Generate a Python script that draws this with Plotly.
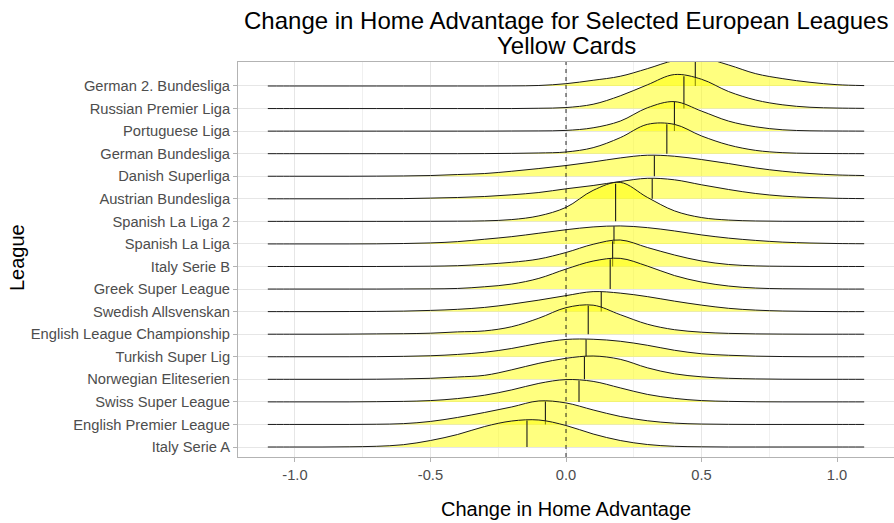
import plotly.graph_objects as go
import numpy as np

# ---------------- data ----------------
leagues = [
    "Italy Serie A", "English Premier League", "Swiss Super League",
    "Norwegian Eliteserien", "Turkish Super Lig", "English League Championship",
    "Swedish Allsvenskan", "Greek Super League", "Italy Serie B",
    "Spanish La Liga", "Spanish La Liga 2", "Austrian Bundesliga",
    "Danish Superliga", "German Bundesliga", "Portuguese Liga",
    "Russian Premier Liga", "German 2. Bundesliga",
]

x_grid = [-1.1, -1.0, -0.9, -0.8, -0.7, -0.6, -0.5, -0.4, -0.3, -0.2, -0.1, 0.0,
          0.1, 0.2, 0.3, 0.4, 0.5, 0.6, 0.7, 0.8, 0.9, 1.0, 1.1]

# ridge heights (relative density) at x_grid, bottom league first
dens_italy_a = [0, 0, 0, 0.2, 0.7, 2.3, 6.5, 12.5, 20.5, 26, 27, 21.5, 13, 6.5, 2.5, 0.7, 0.2, 0, 0, 0, 0, 0, 0]
dens_epl = [0, 0, 0, 0, 0.2, 0.8, 3, 7, 12, 17.5, 23.5, 21.5, 14.5, 8, 3.7, 1.3, 0.4, 0.1, 0, 0, 0, 0, 0]
dens_swiss = [0, 0, 0, 0, 0.2, 0.5, 1.3, 3.3, 6.7, 12, 18.5, 22.3, 20.5, 14, 7.5, 3.5, 1.3, 0.5, 0.1, 0, 0, 0, 0]
dens_norway = [0, 0, 0, 0, 0.1, 0.4, 1, 2.3, 4, 9.5, 16, 21, 23.3, 20, 11.5, 5.5, 2.5, 1, 0.4, 0.1, 0, 0, 0]
dens_turkey = [0, 0, 0, 0, 0.1, 0.4, 1, 2.3, 4.5, 8.3, 13.5, 17.3, 17.5, 15.5, 11.5, 6.5, 3, 1.5, 0.6, 0.2, 0, 0, 0]
dens_champ = [0, 0, 0, 0.1, 0.3, 0.5, 1, 2.3, 3.3, 7.5, 16, 26.5, 29, 19.5, 10, 4.5, 2, 0.8, 0.3, 0.1, 0, 0, 0]
dens_sweden = [0, 0, 0, 0.1, 0.2, 0.5, 1.2, 2.3, 4.2, 7.5, 11.5, 16, 20, 18.5, 15, 10.5, 6.5, 3.3, 1.5, 0.6, 0.2, 0, 0]
dens_greece = [0, 0, 0, 0, 0, 0.1, 0.2, 0.6, 2.3, 5, 10.7, 20, 28, 30.7, 23, 13.5, 7, 3, 1, 0.3, 0.1, 0, 0]
dens_italy_b = [0, 0, 0, 0, 0, 0.1, 0.3, 0.8, 2.2, 4.2, 7.5, 14, 22.2, 26.5, 19, 11.5, 5.5, 2, 0.6, 0.2, 0, 0, 0]
dens_spain = [0, 0, 0, 0, 0.1, 0.4, 1, 2.3, 4.7, 7.3, 10.7, 14.2, 17, 18, 16.3, 13, 9, 5.8, 3.5, 1.8, 0.9, 0.4, 0.2]
dens_spain2 = [0, 0, 0, 0, 0, 0, 0.1, 0.2, 0.5, 1.8, 5.5, 14, 31, 39, 24, 10.5, 3.8, 1.3, 0.4, 0.1, 0, 0, 0]
dens_austria = [0, 0, 0, 0, 0.1, 0.2, 0.7, 1.3, 2.3, 4, 6.3, 10, 13.3, 17.3, 20.5, 19, 14, 9.3, 5.3, 2.7, 1.3, 0.5, 0.2]
dens_denmark = [0, 0, 0, 0, 0.1, 0.3, 0.7, 1.7, 2.7, 5, 7.7, 10.7, 14.3, 18.3, 21, 20, 16.7, 12.7, 8.3, 5, 2.7, 1.3, 0.7]
dens_germany = [0, 0, 0, 0, 0, 0, 0, 0, 0.1, 0.3, 0.7, 1.7, 6, 16, 29.3, 29.3, 17.7, 8.7, 3.3, 1, 0.3, 0.1, 0]
dens_portugal = [0, 0, 0, 0, 0, 0, 0, 0, 0, 0.1, 0.2, 0.7, 3.3, 10, 23.3, 29.5, 20, 10, 4.3, 1.3, 0.3, 0.1, 0]
dens_russia = [0, 0, 0, 0, 0, 0, 0, 0, 0, 0, 0.3, 1, 4.3, 12.7, 23.7, 34, 29.3, 17, 8.5, 3.7, 1.3, 0.5, 0.2]
dens_germany2 = [0, 0, 0, 0, 0, 0, 0, 0, 0, 0.1, 0.5, 2.3, 5.7, 9.7, 17.3, 25.5, 28, 21, 12.3, 7.3, 3.7, 1.3, 0.4]

densities = [dens_italy_a, dens_epl, dens_swiss, dens_norway, dens_turkey, dens_champ,
             dens_sweden, dens_greece, dens_italy_b, dens_spain, dens_spain2, dens_austria,
             dens_denmark, dens_germany, dens_portugal, dens_russia, dens_germany2]

medians = [-0.144, -0.076, 0.048, 0.068, 0.074, 0.082, 0.130, 0.163, 0.172, 0.177,
           0.183, 0.318, 0.326, 0.372, 0.400, 0.435, 0.477]

x_ticks = [-1.0, -0.5, 0.0, 0.5, 1.0]
x_ticklabels = ["-1.0", "-0.5", "0.0", "0.5", "1.0"]

# ---------------- styling ----------------
SCALE = 1 / 22.5625            # density units -> row units
FILL = "rgba(255,255,0,0.5)"
FONT = "Liberation Sans, Arial, Helvetica, sans-serif"

fig = go.Figure()
xs = np.array(x_grid)
for k in range(len(leagues) - 1, -1, -1):
    d = np.array(densities[k], dtype=float)
    base = np.full_like(xs, k, dtype=float)
    top = k + d * SCALE
    fig.add_trace(go.Scatter(x=xs, y=base, mode="lines", line=dict(width=0, color="rgba(0,0,0,0)"),
                             hoverinfo="skip", showlegend=False))
    fig.add_trace(go.Scatter(x=xs, y=top, mode="lines", fill="tonexty", fillcolor=FILL,
                             line=dict(color="#1a1a1a", width=1, shape="spline", smoothing=1.0),
                             hoverinfo="skip", showlegend=False))
    m = medians[k]
    mh = k + np.interp(m, xs, d) * SCALE
    fig.add_trace(go.Scatter(x=[m, m], y=[k, mh], mode="lines",
                             line=dict(color="#1a1a1a", width=1.1),
                             hoverinfo="skip", showlegend=False))

L, R, T, B = 238, 0, 62, 66
W, H = 894, 523
pw, ph = W - L - R, H - T - B

def px(p):
    return (p - L) / pw

def py(p):
    return (H - B - p) / ph

fig.add_shape(type="line", xref="x", yref="paper", x0=0, x1=0, y0=0, y1=1,
              line=dict(color="#111111", width=0.9, dash="4px,4px"), layer="above")

fig.update_layout(
    width=W, height=H,
    margin=dict(l=L, r=R, t=T, b=B, pad=0),
    paper_bgcolor="white", plot_bgcolor="white",
    font=dict(family=FONT, color="#4D4D4D", size=14),
    showlegend=False,
    xaxis=dict(range=[-1.21, 1.21], tickvals=x_ticks, ticktext=x_ticklabels,
               ticks="outside", ticklen=4, tickcolor="#B3B3B3", tickwidth=1,
               tickfont=dict(size=14.7, color="#4D4D4D", family=FONT),
               showgrid=True, gridcolor="#E6E6E6", gridwidth=1,
               minor=dict(tickvals=[-0.75, -0.25, 0.25, 0.75], showgrid=True,
                          gridcolor="#F0F0F0", gridwidth=0.6, ticks=""),
               showline=True, mirror=True, linecolor="#B3B3B3", linewidth=1,
               zeroline=False, fixedrange=True),
    yaxis=dict(range=[-0.443, 17.063], tickvals=list(range(len(leagues))), ticktext=leagues,
               ticks="outside", ticklen=4, tickcolor="#B3B3B3", tickwidth=1,
               tickfont=dict(size=14.7, color="#4D4D4D", family=FONT),
               showgrid=True, gridcolor="#E6E6E6", gridwidth=1,
               showline=True, mirror=True, linecolor="#B3B3B3", linewidth=1,
               zeroline=False, fixedrange=True),
    annotations=[
        dict(text="Change in Home Advantage for Selected European Leagues", xref="paper", yref="paper",
             x=px(566), y=py(20), xanchor="center", yanchor="middle", showarrow=False,
             font=dict(size=24, color="black", family=FONT)),
        dict(text="Yellow Cards", xref="paper", yref="paper",
             x=px(566), y=py(45), xanchor="center", yanchor="middle", showarrow=False,
             font=dict(size=24, color="black", family=FONT)),
        dict(text="Change in Home Advantage", xref="paper", yref="paper",
             x=px(566), y=py(509), xanchor="center", yanchor="middle", showarrow=False,
             font=dict(size=20, color="black", family=FONT)),
        dict(text="League", xref="paper", yref="paper", textangle=-90,
             x=px(17), y=py(258), xanchor="center", yanchor="middle", showarrow=False,
             font=dict(size=20, color="black", family=FONT)),
    ],
)

fig.write_html("out.html", config={"displayModeBar": False},
               post_script="document.body.style.margin='0';document.body.style.overflow='hidden';")
